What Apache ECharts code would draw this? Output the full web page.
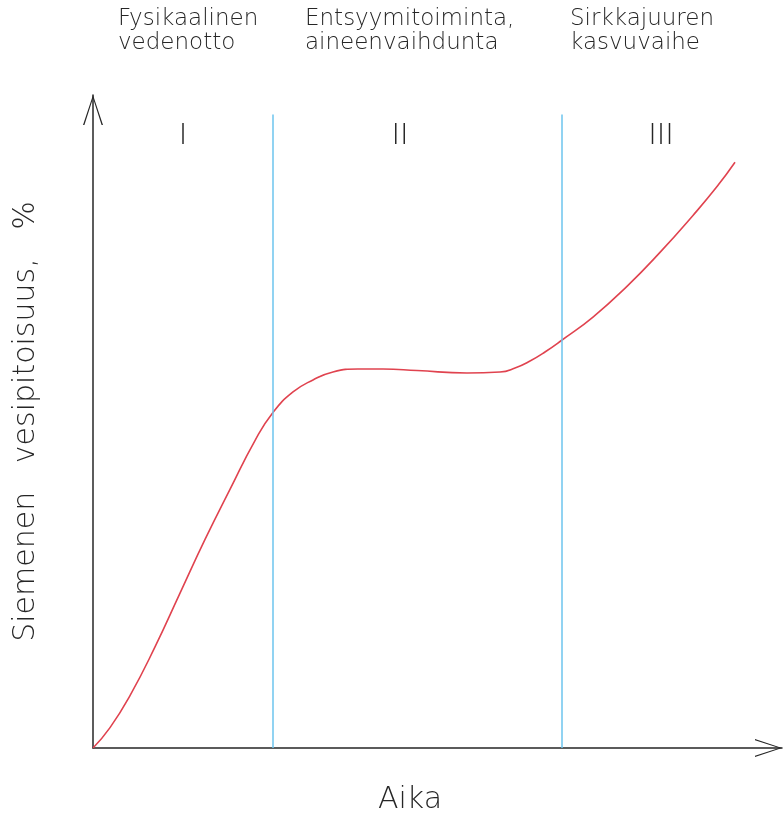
<!DOCTYPE html>
<html>
<head>
<meta charset="utf-8">
<script src="https://cdn.jsdelivr.net/npm/echarts@6/dist/echarts.min.js"></script>
<style>
html,body{margin:0;padding:0;background:#fff;}
#chart{width:784px;height:816px;}
</style>
</head>
<body>
<div id="chart"></div>
<script>
// Time (0..100 relative) and seed water content (0..100 relative)
const timeValues = [0, 2.47, 5.37, 9.0, 12.63, 16.26, 19.88, 23.51, 26.12, 29.03, 31.93, 34.83, 38.46, 42.09, 47.02, 54.28, 59.07, 61.25, 63.43, 65.6, 68.08, 72.57, 77.5, 82.29, 87.08, 90.57, 93.18];
const waterValues = [0, 3.12, 8.02, 15.48, 23.72, 31.94, 39.6, 47.08, 51.38, 54.52, 56.36, 57.59, 58.04, 58.04, 57.81, 57.43, 57.58, 58.19, 59.26, 60.64, 62.48, 66.0, 70.7, 75.9, 81.56, 85.97, 89.69];
const phaseBoundaries = [26.12, 68.08];
const boundaryTop = 97;
const phaseNames = ['Fysikaalinen\nvedenotto', 'Entsyymitoiminta,\naineenvaihdunta', 'Sirkkajuuren\nkasvuvaihe'];
const phaseNumerals = ['I', 'II', 'III'];
const xAxisName = 'Aika';
const yAxisName = 'Siemenen   vesipitoisuus,   %';

const FONT = "'DejaVu Sans', sans-serif";
const TXT = '#262626';
const chevron = 'path://M10,0 L20,30 L18.6,30 L10,3.2 L1.4,30 L0,30 Z';

const chart = echarts.init(document.getElementById('chart'));
const curve = timeValues.map((t, i) => [t, waterValues[i]]);

const namePos = [118, 305, 570];
const numeralPos = [183, 400, 661];

const graphics = [];
phaseNames.forEach((n, i) => {
  graphics.push({
    type: 'text', left: namePos[i], top: 7,
    style: { text: n, font: '200 23px ' + FONT, fill: TXT, lineHeight: 24 }
  });
});
phaseNumerals.forEach((n, i) => {
  graphics.push({
    type: 'text', x: numeralPos[i], y: 136,
    style: { text: n, font: '200 29px ' + FONT, fill: TXT, align: 'center', verticalAlign: 'middle' }
  });
});
graphics.push({
  type: 'text', x: 410, y: 800,
  style: { text: xAxisName, font: '200 30px ' + FONT, fill: TXT, align: 'center', verticalAlign: 'middle' }
});

chart.setOption({
  backgroundColor: '#fff',
  animation: false,
  grid: { left: 93, right: 2, top: 95, bottom: 68, containLabel: false },
  xAxis: {
    type: 'value', min: 0, max: 100,
    axisLine: { show: true, onZero: false, symbol: ['none', chevron], symbolSize: [20, 27], symbolOffset: [0, -13.5],
      lineStyle: { color: TXT, width: 1.5 } },
    axisTick: { show: false }, axisLabel: { show: false }, splitLine: { show: false }
  },
  yAxis: {
    type: 'value', min: 0, max: 100,
    name: yAxisName, nameLocation: 'middle', nameGap: 52, nameRotate: 90,
    nameTextStyle: { fontFamily: FONT, fontSize: 30, fontWeight: 200, color: TXT },
    axisLine: { show: true, onZero: false, symbol: ['none', chevron], symbolSize: [20, 30], symbolOffset: [0, -15],
      lineStyle: { color: TXT, width: 1.5 } },
    axisTick: { show: false }, axisLabel: { show: false }, splitLine: { show: false }
  },
  graphic: graphics,
  series: [
    {
      type: 'line', name: 'boundaries', data: [], silent: true,
      markLine: {
        silent: true, symbol: ['none', 'none'], label: { show: false },
        lineStyle: { color: '#6cc5ee', width: 1.5, type: 'solid' },
        data: phaseBoundaries.map(b => [{ coord: [b, 0] }, { coord: [b, boundaryTop] }])
      }
    },
    {
      type: 'line', name: 'vesipitoisuus', data: curve, smooth: 0.5, showSymbol: false,
      lineStyle: { color: '#e0434f', width: 1.6 }, z: 3
    }
  ]
});
</script>
</body>
</html>
